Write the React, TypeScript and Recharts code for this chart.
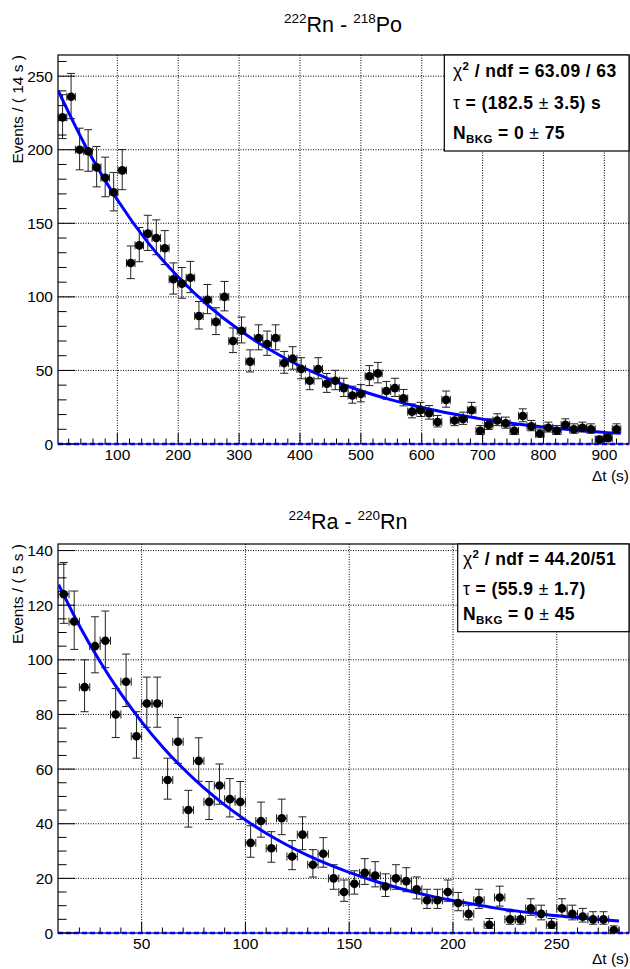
import { ComposedChart, Scatter, Line, XAxis, YAxis, CartesianGrid, ErrorBar, ReferenceLine } from 'recharts';

const FONT = '"Liberation Sans", Arial, Helvetica, sans-serif';

// 222Rn - 218Po, 14 s bins starting at 3 s
const rnBinStart = 3;
const rnBinWidth = 14;
const rnCounts = [
  222, 236, 200, 199, 188, 181, 171, 186, 123, 135,
  143, 140, 133, 112, 109, 113, 87, 98, 83, 100,
  70, 77, 56, 72, 68, 72, 55, 58, 51, 43,
  51, 41, 43, 38, 33, 34, 46, 48, 36, 38,
  31, 22, 23, 21, 15, 30, 16, 17, 23, 9,
  13, 16, 14, 9, 19, 12, 7, 11, 9, 13,
  10, 11, 10, 3, 4, 10,
];
// fitted curve
const rnFitT = [3, 50, 100, 150, 200, 250, 300, 350, 400, 450, 500, 550, 600, 650, 700, 750, 800, 850, 900, 927];
const rnFitV = [240, 200.7, 166, 137, 113.5, 93.8, 77.6, 64.2, 53, 43.8, 36.2, 30, 24.8, 20.5, 16.9, 14, 11.6, 9.6, 7.9, 7.3];
const rnXMajor = [100, 200, 300, 400, 500, 600, 700, 800, 900];
const rnYMajor = [0, 50, 100, 150, 200, 250];

// 224Ra - 220Rn, 5 s bins starting at 10 s
const raBinStart = 10;
const raBinWidth = 5;
const raCounts = [
  124, 114, 90, 105, 107, 80, 92, 72, 84, 84,
  56, 70, 45, 63, 48, 54, 49, 48, 33, 41,
  31, 42, 28, 36, 25, 29, 20, 15, 18, 22,
  21, 17, 20, 19, 16, 12, 12, 15, 11, 7,
  12, 3, 13, 5, 5, 9, 7, 3, 9, 7,
  6, 5, 5, 1,
];
const raFitT = [10, 20, 30, 40, 50, 60, 70, 80, 90, 100, 110, 120, 130, 140, 150, 160, 170, 180, 190, 200, 210, 220, 230, 240, 250, 260, 270, 280];
const raFitV = [127.5, 112.5, 99.3, 87.6, 77.3, 68.2, 60.2, 53.1, 46.9, 41.4, 36.5, 32.2, 28.4, 25.1, 22.2, 19.6, 17.3, 15.2, 13.4, 11.9, 10.5, 9.2, 8.1, 7.2, 6.3, 5.6, 4.9, 4.4];
const raXMajor = [50, 100, 150, 200, 250];
const raYMajor = [0, 20, 40, 60, 80, 100, 120, 140];

function steps(from: number, to: number, step: number) {
  const out: number[] = [];
  for (let v = from; v <= to + 1e-9; v += step) out.push(Math.round(v * 100) / 100);
  return out;
}

function histRows(start: number, width: number, counts: number[]) {
  return counts.map((n, i) => {
    const s = Math.sqrt(n + 0.25);
    return { t: start + width * (i + 0.5), n, ey: [s - 0.5, s + 0.5], ex: width / 2 };
  });
}

function curveRows(ts: number[], vs: number[]) {
  return ts.map((t, i) => ({ t, n: vs[i] }));
}

const Dot = (p: any) => <circle cx={p.cx} cy={p.cy} r={4.3} fill="#000" />;

function xTick(major: number[]) {
  return (p: any) => {
    const v = p.payload.value;
    const isMajor = major.includes(v);
    return (
      <g>
        <line x1={p.x} x2={p.x} y1={p.y} y2={p.y - (isMajor ? 11 : 5.5)} stroke="#000" strokeWidth={1} />
        {isMajor && (
          <text x={p.x} y={p.y + 16} textAnchor="middle" fontSize={15.5} fontFamily={FONT} fill="#000">
            {v}
          </text>
        )}
      </g>
    );
  };
}

function yTick(major: number[]) {
  return (p: any) => {
    const v = p.payload.value;
    const isMajor = major.includes(v);
    return (
      <g>
        <line x1={p.x} x2={p.x + (isMajor ? 17 : 8.5)} y1={p.y} y2={p.y} stroke="#000" strokeWidth={1} />
        {isMajor && (
          <text x={p.x - 5} y={p.y + 5.5} textAnchor="end" fontSize={15.5} fontFamily={FONT} fill="#000">
            {v}
          </text>
        )}
      </g>
    );
  };
}

interface PanelProps {
  rows: ReturnType<typeof histRows>;
  fit: { t: number; n: number }[];
  height: number;
  marginTop: number;
  xAxisHeight: number;
  xDomain: [number, number];
  yDomain: [number, number];
  xTicks: number[];
  yTicks: number[];
  xMajor: number[];
  yMajor: number[];
}

function DecayPanel({ rows, fit, height, marginTop, xAxisHeight, xDomain, yDomain, xTicks, yTicks, xMajor, yMajor }: PanelProps) {
  return (
    <ComposedChart width={630} height={height} margin={{ top: marginTop, right: 1, bottom: 0, left: 0 }}>
      <CartesianGrid
        stroke="#000"
        strokeWidth={1}
        strokeDasharray="1 1.5"
        horizontalValues={yMajor.filter((v) => v > 0)}
        verticalValues={xMajor}
      />
      <XAxis
        type="number"
        dataKey="t"
        domain={xDomain}
        allowDataOverflow
        ticks={xTicks}
        interval={0}
        height={xAxisHeight}
        axisLine={false}
        tickLine={false}
        tickSize={0}
        tickMargin={0}
        tick={xTick(xMajor)}
      />
      <YAxis
        type="number"
        dataKey="n"
        domain={yDomain}
        allowDataOverflow
        ticks={yTicks}
        interval={0}
        width={58}
        axisLine={false}
        tickLine={false}
        tickSize={0}
        tickMargin={0}
        tick={yTick(yMajor)}
      />
      <ReferenceLine y={0} stroke="#0000ff" strokeWidth={2.5} strokeDasharray="5 3" />
      <Scatter data={rows} dataKey="n" shape={Dot} isAnimationActive={false}>
        <ErrorBar dataKey="ey" direction="y" width={4} stroke="#222" strokeWidth={1} />
        <ErrorBar dataKey="ex" direction="x" width={4} stroke="#222" strokeWidth={1} />
      </Scatter>
      <Line data={fit} dataKey="n" type="monotone" stroke="#0000ff" strokeWidth={3} dot={false} isAnimationActive={false} />
    </ComposedChart>
  );
}

function StatBox({ x, y, w, h, tx, lines, chi, tau, nb }: any) {
  return (
    <g fontFamily={FONT} fontWeight="bold" fontSize={17.5} letterSpacing={0.4} fill="#000">
      <rect x={x} y={y} width={w} height={h} fill="#fff" stroke="#000" strokeWidth={1.2} />
      <text x={tx} y={lines[0]}>
        <tspan fontWeight="normal">χ</tspan>
        <tspan fontSize={11.5} dy={-7.5}>2</tspan>
        <tspan dy={7.5}>{` / ndf = ${chi}`}</tspan>
      </text>
      <text x={tx} y={lines[1]}>
        <tspan fontWeight="normal">τ</tspan>
        <tspan>{` = (${tau[0]} `}</tspan>
        <tspan fontWeight="normal">±</tspan>
        <tspan>{` ${tau[1]})${tau[2]}`}</tspan>
      </text>
      <text x={tx} y={lines[2]}>
        <tspan>N</tspan>
        <tspan fontSize={11.5} dy={4}>BKG</tspan>
        <tspan dy={-4}>{` = ${nb[0]} `}</tspan>
        <tspan fontWeight="normal">±</tspan>
        <tspan>{` ${nb[1]}`}</tspan>
      </text>
    </g>
  );
}

export default function App() {
  const rnRows = histRows(rnBinStart, rnBinWidth, rnCounts);
  const raRows = histRows(raBinStart, raBinWidth, raCounts);
  const rnFit = curveRows(rnFitT, rnFitV);
  const raFit = curveRows(raFitT, raFitV);

  return (
    <div style={{ position: 'absolute', left: 0, top: 0, width: 630, height: 969, background: '#fff', overflow: 'hidden' }}>
      <svg width={630} height={969} style={{ position: 'absolute', left: 0, top: 0 }}>
        <rect x={58} y={55} width={571} height={389} fill="none" stroke="#000" strokeWidth={1.2} />
        <rect x={58} y={544} width={571} height={389} fill="none" stroke="#000" strokeWidth={1.2} />
      </svg>
      <div style={{ position: 'absolute', left: 0, top: 0 }}>
        <DecayPanel
          rows={rnRows}
          fit={rnFit}
          height={490}
          marginTop={55}
          xAxisHeight={46}
          xDomain={[2.5, 940.5]}
          yDomain={[0, 264.4]}
          xTicks={steps(20, 920, 20)}
          yTicks={steps(0, 260, 10)}
          xMajor={rnXMajor}
          yMajor={rnYMajor}
        />
      </div>
      <div style={{ position: 'absolute', left: 0, top: 490 }}>
        <DecayPanel
          rows={raRows}
          fit={raFit}
          height={479}
          marginTop={54}
          xAxisHeight={36}
          xDomain={[9.7, 284.8]}
          yDomain={[0, 142.4]}
          xTicks={steps(20, 280, 10)}
          yTicks={steps(0, 140, 5)}
          xMajor={raXMajor}
          yMajor={raYMajor}
        />
      </div>
      <svg width={630} height={969} style={{ position: 'absolute', left: 0, top: 0, pointerEvents: 'none' }}>
        <g fontFamily={FONT} fill="#000">
          <text x={343} y={31.5} textAnchor="middle" fontSize={21.5}>
            <tspan fontSize={13.5} dy={-9}>222</tspan>
            <tspan dy={9}>Rn - </tspan>
            <tspan fontSize={13.5} dy={-9}>218</tspan>
            <tspan dy={9}>Po</tspan>
          </text>
          <text x={348} y={528.5} textAnchor="middle" fontSize={21.5}>
            <tspan fontSize={13.5} dy={-9}>224</tspan>
            <tspan dy={9}>Ra - </tspan>
            <tspan fontSize={13.5} dy={-9}>220</tspan>
            <tspan dy={9}>Rn</tspan>
          </text>
          <text transform="rotate(-90)" x={-55} y={23} textAnchor="end" fontSize={15.5}>Events / ( 14 s )</text>
          <text transform="rotate(-90)" x={-544} y={23} textAnchor="end" fontSize={15.5}>Events / ( 5 s )</text>
          <text x={629} y={481} textAnchor="end" fontSize={15.5}>Δt (s)</text>
          <text x={629} y={964} textAnchor="end" fontSize={15.5}>Δt (s)</text>
        </g>
        <StatBox x={444.3} y={55} w={184.7} h={96} tx={453} lines={[77, 109, 139]} chi="63.09 / 63" tau={['182.5', '3.5', ' s']} nb={['0', '75']} />
        <StatBox x={457.7} y={544} w={171.3} h={87.7} tx={463} lines={[565, 595, 620]} chi="44.20/51" tau={['55.9', '1.7', '']} nb={['0', '45']} />
      </svg>
    </div>
  );
}
